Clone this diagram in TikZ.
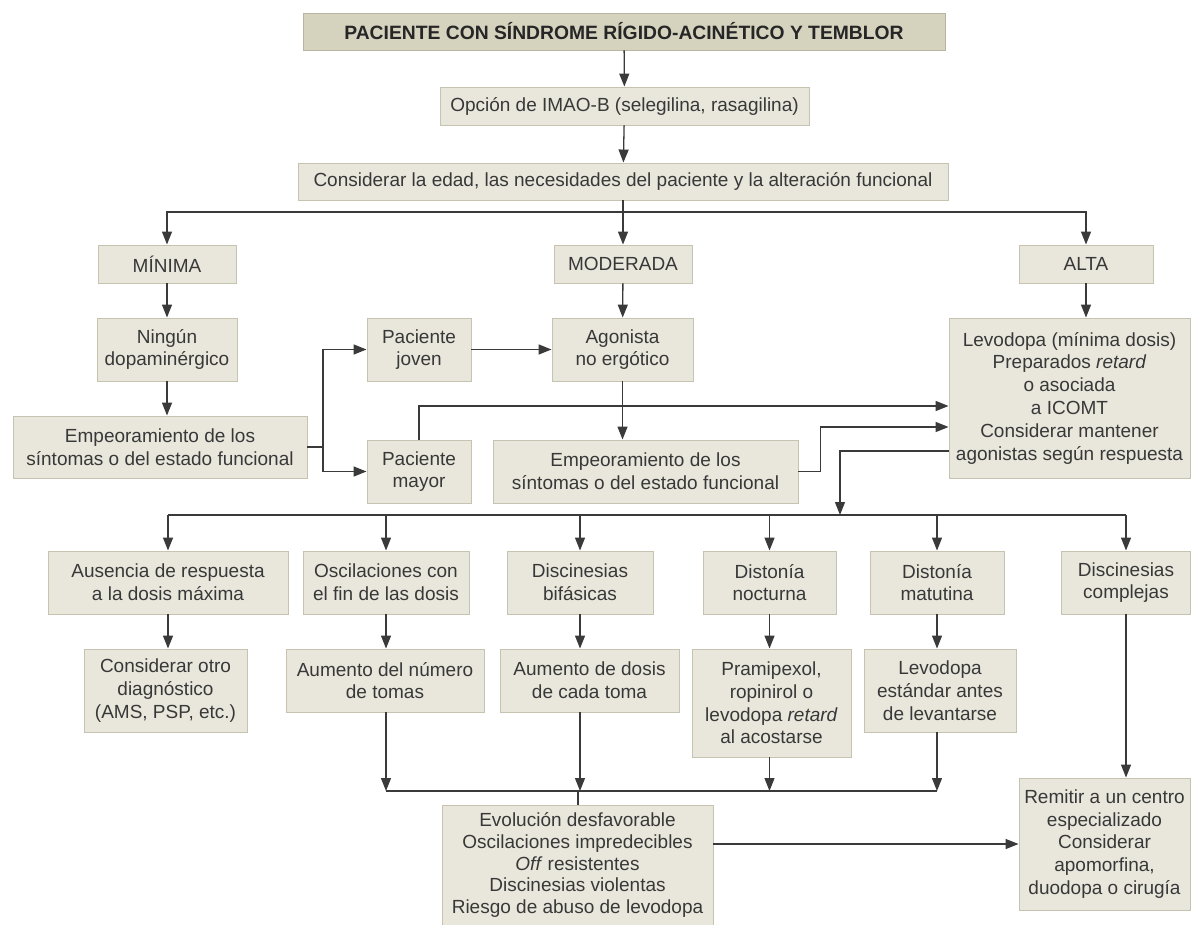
\documentclass[tikz,border=0pt]{standalone}
\usepackage{fontspec}
\setmainfont{Liberation Sans}
\usetikzlibrary{arrows.meta}
\definecolor{boxfill}{HTML}{E9E7DC}
\definecolor{boxline}{HTML}{C6C3B1}
\definecolor{titlefill}{HTML}{D5D2BE}
\definecolor{titleline}{HTML}{B8B5A0}
\definecolor{txt}{HTML}{383838}
\definecolor{conn}{HTML}{3A3A3A}
\tikzset{
  bx/.style={draw=boxline, fill=boxfill, line width=0.9pt, align=center, inner sep=0pt,
    text=txt, font=\fontsize{19}{22.8}\selectfont},
  titlebox/.style={bx, draw=titleline, fill=titlefill, font=\bfseries\fontsize{19.3}{22}\selectfont, text=black!85},
  arr/.style={draw=conn, line width=1.3pt, -{Triangle[length=13pt,width=10pt]}},
  ln/.style={draw=conn, line width=1.3pt},
}
\begin{document}
\begin{tikzpicture}[x=1pt,y=-1pt]
\useasboundingbox (0,0) rectangle (1192,925);
% nodes
\node[titlebox, minimum width=642, minimum height=37] (title) at (624,31.5) {PACIENTE CON SÍNDROME RÍGIDO-ACINÉTICO Y TEMBLOR};
\node[bx, minimum width=369, minimum height=38] (imao) at (624.5,106) {Opción de IMAO-B (selegilina, rasagilina)};
\node[bx, minimum width=650, minimum height=37] (cons) at (623,181.5) {Considerar la edad, las necesidades del paciente y la alteración funcional};
\node[bx, minimum width=138, minimum height=38] (minima) at (167,264) {MÍNIMA};
\node[bx, minimum width=138, minimum height=38] (moderada) at (623,264) {MODERADA};
\node[bx, minimum width=134, minimum height=38] (alta) at (1086,264) {ALTA};
\node[bx, minimum width=140, minimum height=63] (ningun) at (167,349.5) {Ningún\\dopaminérgico};
\node[bx, minimum width=294, minimum height=62] (emp1) at (160,447) {Empeoramiento de los\\síntomas o del estado funcional};
\node[bx, minimum width=104, minimum height=63] (joven) at (419,349.5) {Paciente\\joven};
\node[bx, minimum width=104, minimum height=63] (mayor) at (419,471.5) {Paciente\\mayor};
\node[bx, minimum width=141, minimum height=63] (agon) at (622.5,349.5) {Agonista\\no ergótico};
\node[bx, minimum width=305, minimum height=63] (emp2) at (645.5,471.5) {Empeoramiento de los\\síntomas o del estado funcional};
\node[bx, minimum width=241, minimum height=160] (levo) at (1069.5,398) {Levodopa (mínima dosis)\\Preparados \textit{retard}\\o asociada\\a ICOMT\\Considerar mantener\\agonistas según respuesta};
\node[bx, minimum width=240, minimum height=63] (aus) at (168,582.5) {Ausencia de respuesta\\a la dosis máxima};
\node[bx, minimum width=166, minimum height=63] (osc) at (386,582.5) {Oscilaciones con\\el fin de las dosis};
\node[bx, minimum width=146, minimum height=63] (bif) at (580,582.5) {Discinesias\\bifásicas};
\node[bx, minimum width=133, minimum height=63] (noct) at (769.5,582.5) {Distonía\\nocturna};
\node[bx, minimum width=134, minimum height=63] (mat) at (937,582.5) {Distonía\\matutina};
\node[bx, minimum width=129, minimum height=63] (comp) at (1126,582.5) {Discinesias\\complejas};
\node[bx, minimum width=163, minimum height=83] (otro) at (165.5,690.5) {Considerar otro\\diagnóstico\\(AMS, PSP, etc.)};
\node[bx, minimum width=198, minimum height=63] (numero) at (385,680.5) {Aumento del número\\de tomas};
\node[bx, minimum width=179, minimum height=63] (dosis) at (589.5,680.5) {Aumento de dosis\\de cada toma};
\node[bx, minimum width=159, minimum height=108] (pram) at (771.5,703) {Pramipexol,\\ropinirol o\\levodopa \textit{retard}\\al acostarse};
\node[bx, minimum width=152, minimum height=83] (estandar) at (940,690.5) {Levodopa\\estándar antes\\de levantarse};
\node[bx, minimum width=271, minimum height=120, font=\fontsize{19}{21.6}\selectfont] (evol) at (577.5,865) {Evolución desfavorable\\Oscilaciones impredecibles\\\textit{Off} resistentes\\Discinesias violentas\\Riesgo de abuso de levodopa};
\node[bx, minimum width=171, minimum height=132] (remitir) at (1104.5,844) {Remitir a un centro\\especializado\\Considerar\\apomorfina,\\duodopa o cirugía};
% split coordinates
\coordinate (sA) at (623,212);
\coordinate (sB) at (323,447);
\coordinate (sC) at (840,515);
\coordinate (sD) at (578,791);
% connectors
\draw[arr] (title) -- (imao);
\draw[arr] (imao) -- (cons);
\draw[ln] (cons.south) -- (sA);
\draw[arr] (sA) -| (minima.north);
\draw[arr] (sA) -- (moderada.north);
\draw[arr] (sA) -| (alta.north);
\draw[arr] (minima) -- (ningun);
\draw[arr] (moderada) -- (agon);
\draw[arr] (alta.south) -- (alta.south|-levo.north);
\draw[arr] (ningun.south) -- (ningun.south|-emp1.north);
\draw[ln] (emp1.east) -- (sB);
\draw[arr] (sB) |- (joven.west);
\draw[arr] (sB) |- (mayor.west);
\draw[arr] (joven) -- (agon);
\draw[arr] (agon.south) -- (agon.south|-emp2.north);
\draw[arr] (mayor.north) |- ([yshift=-8pt]levo.west);
\draw[arr] (emp2.east) -- ++(22,0) |- ([yshift=-29pt]levo.west);
\draw[arr] ([yshift=-53pt]levo.west) -| (sC);
% distribution line
\draw[ln] (aus.north|-sC) -- (comp.north|-sC);
\foreach \n in {aus,osc,bif,noct,mat,comp}{
  \draw[arr] (\n.north|-sC) -- (\n.north);
}
\draw[arr] (aus.south) -- (aus.south|-otro.north);
\draw[arr] (osc.south) -- (osc.south|-numero.north);
\draw[arr] (bif.south) -- (bif.south|-dosis.north);
\draw[arr] (noct.south) -- (noct.south|-pram.north);
\draw[arr] (mat.south) -- (mat.south|-estandar.north);
% collect line
\draw[ln] (osc.south|-sD) -- (mat.south|-sD);
\draw[arr] (osc.south|-numero.south) -- (osc.south|-sD);
\draw[arr] (bif.south|-dosis.south) -- (bif.south|-sD);
\draw[arr] (noct.south|-pram.south) -- (noct.south|-sD);
\draw[arr] (mat.south|-estandar.south) -- (mat.south|-sD);
\draw[ln] (sD) -- (sD|-evol.north);
\draw[arr] (evol.east|-remitir.west) -- (remitir.west);
\draw[arr] (comp.south) -- (comp.south|-remitir.north);
\end{tikzpicture}
\end{document}
